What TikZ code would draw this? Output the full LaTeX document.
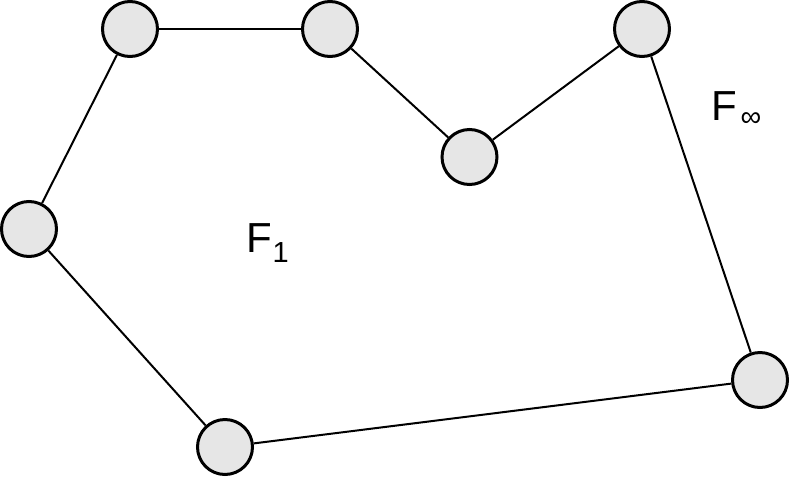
\documentclass[tikz,border=0pt]{standalone}
\usepackage{fontspec}
\setmainfont{Liberation Sans}
\definecolor{nodefill}{HTML}{E6E6E6}
\begin{document}
\begin{tikzpicture}[x=1pt,y=-1pt,
  vert/.style={circle,draw=black,line width=3pt,fill=nodefill,minimum size=55pt,inner sep=0pt},
  edge/.style={draw=black,line width=2pt},
  lbl/.style={anchor=base west,inner sep=0pt,font=\fontsize{42}{42}\selectfont}]
\useasboundingbox (0,0) rectangle (800,477);
\node[vert] (A) at (130,29) {};
\node[vert] (B) at (330,29) {};
\node[vert] (C) at (469.5,157) {};
\node[vert] (D) at (642,29) {};
\node[vert] (E) at (760,380) {};
\node[vert] (F) at (225,447) {};
\node[vert] (G) at (29,229) {};
\draw[edge] (A) -- (B);
\draw[edge] (B) -- (C);
\draw[edge] (C) -- (D);
\draw[edge] (D) -- (E);
\draw[edge] (E) -- (F);
\draw[edge] (F) -- (G);
\draw[edge] (G) -- (A);
\node[lbl] (L1) at (246.7,252) {F\raisebox{-10pt}{\fontsize{29}{29}\selectfont 1}};
\node[lbl] (L2) at (711.7,120) {F\hspace{3pt}\raisebox{-6pt}{\fontsize{29}{29}\selectfont ∞}};
\end{tikzpicture}
\end{document}
